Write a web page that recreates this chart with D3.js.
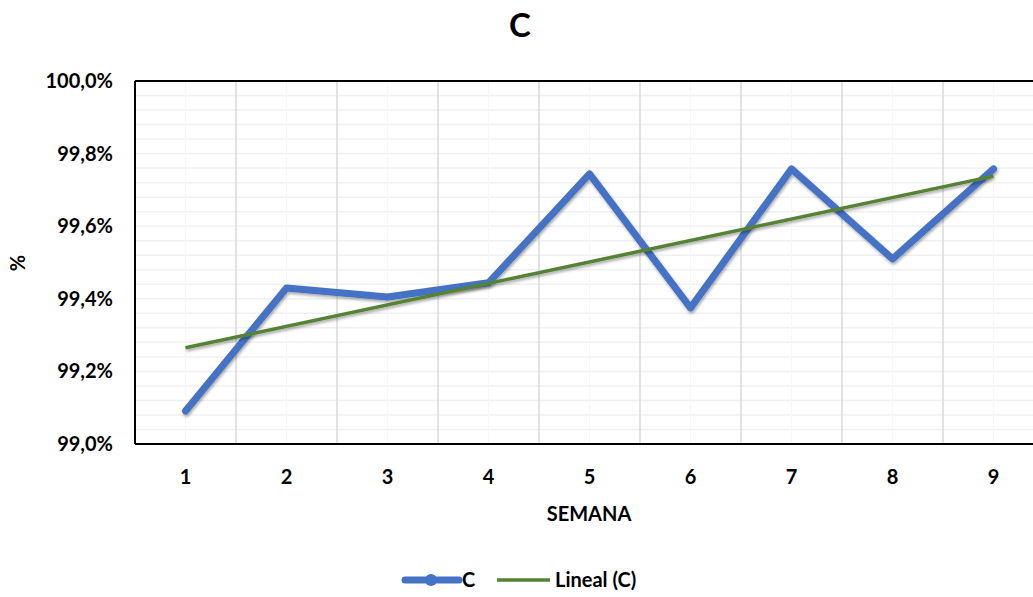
<!DOCTYPE html>
<html>
<head>
<meta charset="utf-8">
<script src="https://cdn.jsdelivr.net/npm/d3@7"></script>
<style>
  body { margin: 0; background: #fff; }
  svg text { font-family: Lato, "Open Sans", sans-serif; font-weight: bold; fill: #000; }
</style>
</head>
<body>
<div id="chart"></div>
<script>
// Datos del gráfico
const semanas = [1, 2, 3, 4, 5, 6, 7, 8, 9];
const valoresC = [99.091, 99.430, 99.405, 99.444, 99.744, 99.375, 99.758, 99.510, 99.758];
// Tendencia lineal (extremos)
const tendenciaX = [1, 9];
const tendenciaC = [99.265, 99.738];
const ticksY = [99.0, 99.2, 99.4, 99.6, 99.8, 100.0];

const W = 1033, H = 597;
const margin = { top: 81, right: -11, bottom: 153, left: 135 };
const width = W - margin.left - margin.right;
const height = H - margin.top - margin.bottom;

const svg = d3.select('#chart').append('svg')
  .attr('width', W).attr('height', H);

const defs = svg.append('defs');
const f = defs.append('filter').attr('id', 'sombra')
  .attr('x', '-10%').attr('y', '-10%').attr('width', '120%').attr('height', '130%');
f.append('feDropShadow').attr('dx', 1).attr('dy', 2).attr('stdDeviation', 1.5)
  .attr('flood-color', '#000').attr('flood-opacity', 0.35);

const g = svg.append('g').attr('transform', `translate(${margin.left},${margin.top})`);

// Escalas
const x = d3.scaleBand().domain(semanas).range([0, width]);
const xc = d => x(d) + x.bandwidth() / 2;
const y = d3.scaleLinear().domain([99.0, 100.0]).range([height, 0]);

// Cuadrícula menor horizontal
g.append('g').selectAll('line')
  .data(d3.range(99.0, 100.0001, 0.04))
  .enter().append('line')
  .attr('x1', 0).attr('x2', width)
  .attr('y1', d => y(d)).attr('y2', d => y(d))
  .attr('stroke', '#f0f0f0').attr('stroke-width', 1.5);

// Cuadrícula menor vertical (centros)
g.append('g').selectAll('line')
  .data(semanas)
  .enter().append('line')
  .attr('x1', d => xc(d)).attr('x2', d => xc(d))
  .attr('y1', 0).attr('y2', height)
  .attr('stroke', '#f7f7f7').attr('stroke-width', 1);

// Cuadrícula mayor vertical (entre categorías)
g.append('g').selectAll('line')
  .data(semanas.slice(1))
  .enter().append('line')
  .attr('x1', d => x(d)).attr('x2', d => x(d))
  .attr('y1', 0).attr('y2', height)
  .attr('stroke', '#d9d9d9').attr('stroke-width', 1.5);

// Marco
g.append('line').attr('x1', 0).attr('x2', width).attr('y1', 0).attr('y2', 0)
  .attr('stroke', '#000').attr('stroke-width', 2);
g.append('line').attr('x1', 0).attr('x2', width).attr('y1', height).attr('y2', height)
  .attr('stroke', '#000').attr('stroke-width', 2);
g.append('line').attr('x1', 0).attr('x2', 0).attr('y1', 0).attr('y2', height)
  .attr('stroke', '#000').attr('stroke-width', 2);

// Serie C
const linea = d3.line().x((d, i) => xc(semanas[i])).y(d => y(d));
g.append('path')
  .datum(valoresC)
  .attr('d', linea)
  .attr('fill', 'none')
  .attr('stroke', '#4472C4')
  .attr('stroke-width', 7)
  .attr('stroke-linecap', 'round')
  .attr('stroke-linejoin', 'round')
  .attr('filter', 'url(#sombra)');

// Tendencia lineal
const lineaT = d3.line().x((d, i) => xc(tendenciaX[i])).y(d => y(d));
g.append('path')
  .datum(tendenciaC)
  .attr('d', lineaT)
  .attr('fill', 'none')
  .attr('stroke', '#548235')
  .attr('stroke-width', 3.5)
  .attr('filter', 'url(#sombra)');

// Eje Y
const fmt = d => d3.format('.1f')(d).replace('.', ',') + '%';
g.append('g').selectAll('text')
  .data(ticksY)
  .enter().append('text')
  .attr('x', -22).attr('y', d => y(d)).attr('dy', '0.35em')
  .attr('text-anchor', 'end')
  .style('font-size', '20px')
  .text(fmt);

// Eje X
g.append('g').selectAll('text')
  .data(semanas)
  .enter().append('text')
  .attr('x', d => xc(d)).attr('y', height + 40)
  .attr('text-anchor', 'middle')
  .style('font-size', '20px')
  .text(d => d);

// Títulos
svg.append('text')
  .attr('x', 520).attr('y', 37)
  .attr('text-anchor', 'middle')
  .style('font-size', '33px')
  .text('C');

svg.append('text')
  .attr('x', 589).attr('y', 521)
  .attr('text-anchor', 'middle')
  .style('font-size', '20px')
  .text('SEMANA');

svg.append('text')
  .attr('transform', 'translate(25,263) rotate(-90)')
  .attr('text-anchor', 'middle')
  .style('font-size', '20px')
  .text('%');

// Leyenda
const ley = svg.append('g').attr('transform', 'translate(0,580)');
ley.append('line').attr('x1', 405).attr('x2', 459).attr('y1', 0).attr('y2', 0)
  .attr('stroke', '#4472C4').attr('stroke-width', 7).attr('stroke-linecap', 'round');
ley.append('circle').attr('cx', 431).attr('cy', 0).attr('r', 6).attr('fill', '#4472C4');
ley.append('text').attr('x', 462).attr('y', 0).attr('dy', '0.35em')
  .style('font-size', '20px').text('C');
ley.append('line').attr('x1', 497).attr('x2', 550).attr('y1', 0).attr('y2', 0)
  .attr('stroke', '#548235').attr('stroke-width', 3.5);
ley.append('text').attr('x', 555).attr('y', 0).attr('dy', '0.35em')
  .style('font-size', '20px').text('Lineal (C)');
</script>
</body>
</html>
